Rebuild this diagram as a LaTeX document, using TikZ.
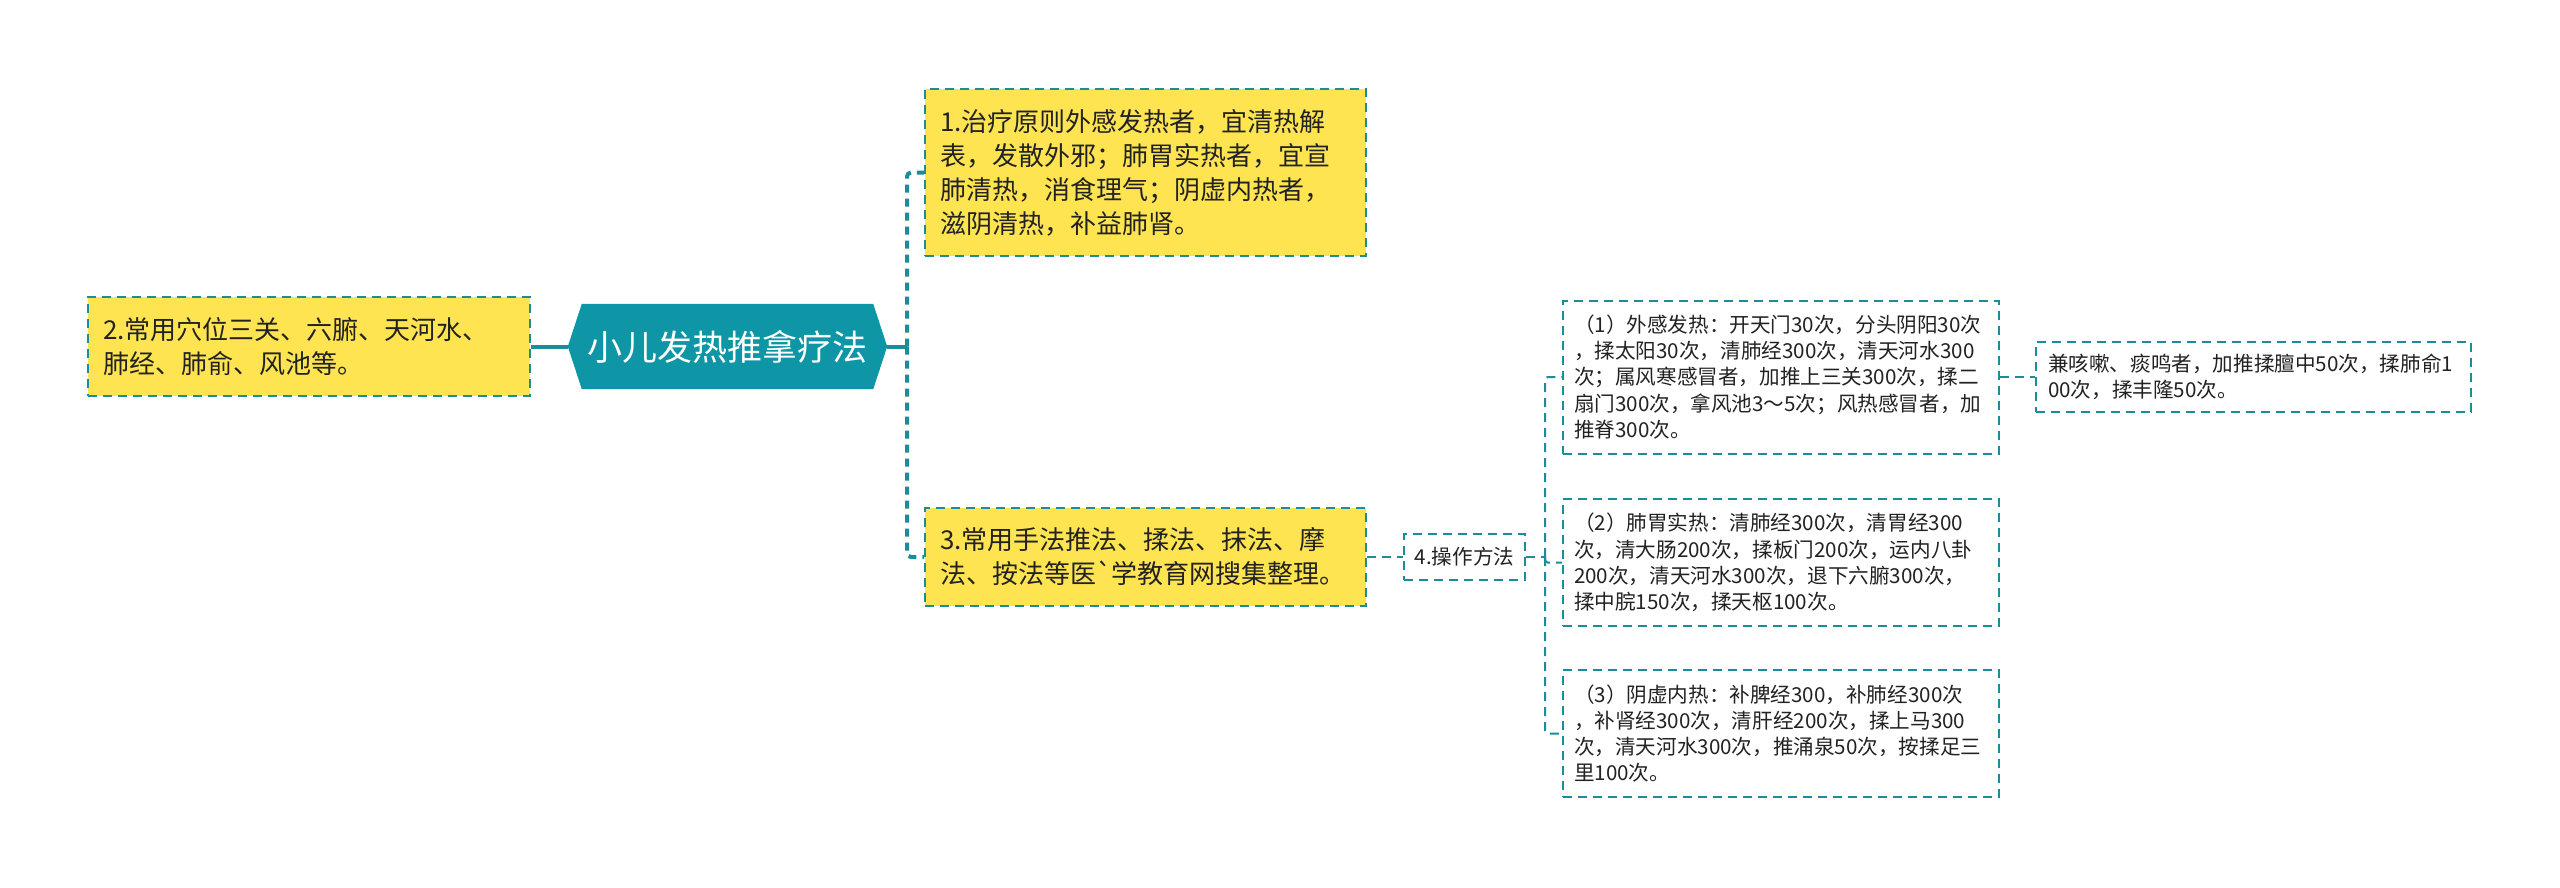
\documentclass[tikz,border=0pt]{standalone}
\usepackage{fontspec}
\setmainfont{Noto Sans CJK SC}
\newfontfamily\rawfont{Noto Sans CJK SC}[Ligatures=TeXOff]
\usetikzlibrary{backgrounds}
\definecolor{hexfill}{HTML}{0E96A6}
\definecolor{linec}{HTML}{1B8C99}
\definecolor{yel}{HTML}{FFE452}
\definecolor{txtc}{HTML}{222222}
\hyphenpenalty=10000
\exhyphenpenalty=10000
\begin{document}
\begin{tikzpicture}[x=1pt,y=-1pt,
  ybox/.style={draw=linec, fill=yel, line width=2pt, dash pattern=on 9pt off 6pt, align=left, inner xsep=15pt, inner ysep=0pt, font=\fontsize{26}{34}\selectfont, text=txtc},
  wbox/.style={draw=linec, fill=white, line width=2pt, dash pattern=on 9pt off 6pt, align=left, inner xsep=11pt, inner ysep=0pt, font=\fontsize{20.6}{26.3}\selectfont, text=txtc},
  mainline/.style={draw=linec, line width=4pt},
  maindash/.style={draw=linec, line width=4pt, dash pattern=on 8pt off 6pt, rounded corners=4pt},
  thindash/.style={draw=linec, line width=2pt, dash pattern=on 9pt off 6pt, rounded corners=3pt}]
\useasboundingbox (0,0) rectangle (2560,887);

% central hexagon
\node[minimum width=319pt, minimum height=85pt, inner sep=0pt, text=white, font=\fontsize{35}{40}\selectfont] (c) at (727.5,346.5) {小儿发热推拿疗法};
\begin{scope}[on background layer]
\fill[white] (0,0) rectangle (2560,887);
\fill[hexfill] (c.west) -- ([xshift=14pt]c.north west) -- ([xshift=-14pt]c.north east) -- (c.east) -- ([xshift=-14pt]c.south east) -- ([xshift=14pt]c.south west) -- cycle;
\end{scope}

% first-level nodes
\node[ybox, text width=412pt, minimum height=99pt] (n2) at (309,346.5) {2.常用穴位三关、六腑、天河水、\\肺经、肺俞、风池等。};
\node[ybox, text width=411pt, minimum height=167pt] (n1) at (1145.5,172.5) {1.治疗原则外感发热者，宜清热解\\表，发散外邪；肺胃实热者，宜宣\\肺清热，消食理气；阴虚内热者，\\滋阴清热，补益肺肾。};
\node[ybox, text width=411pt, minimum height=98pt] (n3) at (1145.5,557) {3.常用手法推法、揉法、抹法、摩\\法、按法等医{\rawfont`}学教育网搜集整理。};

% second level
\node[wbox, align=center, inner xsep=0pt, minimum width=121pt, minimum height=46pt] (n4) at (1464.5,557) {4.操作方法};
\node[wbox, text width=414pt, minimum height=153pt] (s1) at (1781,377) {（1）外感发热：开天门30次，分头阴阳30次\\，揉太阳30次，清肺经300次，清天河水300\\次；属风寒感冒者，加推上三关300次，揉二\\扇门300次，拿风池3～5次；风热感冒者，加\\推脊300次。};
\node[wbox, text width=414pt, minimum height=127pt] (s2) at (1781,562.5) {（2）肺胃实热：清肺经300次，清胃经300\\次，清大肠200次，揉板门200次，运内八卦\\200次，清天河水300次，退下六腑300次，\\揉中脘150次，揉天枢100次。};
\node[wbox, text width=414pt, minimum height=127pt] (s3) at (1781,733.5) {（3）阴虚内热：补脾经300，补肺经300次\\，补肾经300次，清肝经200次，揉上马300\\次，清天河水300次，推涌泉50次，按揉足三\\里100次。};
\node[wbox, inner xsep=12pt, text width=411pt, minimum height=70pt] (f) at (2253.5,377) {兼咳嗽、痰鸣者，加推揉膻中50次，揉肺俞1\\00次，揉丰隆50次。};

% connectors
\coordinate (j1) at (907,346.5);
\coordinate (j2) at (1545,557);
\draw[mainline] (c.west) -- (n2.east);
\draw[mainline] (c.east) -- (j1);
\draw[maindash] (j1) |- (n1.west);
\draw[maindash] (j1) |- (n3.west);
\draw[thindash] (n3.east) -- (n4.west);
\draw[thindash] (n4.east) -- (j2);
\draw[thindash] (j2) |- (s1.west);
\draw[thindash] (j2) |- (s2.west);
\draw[thindash] (j2) |- (s3.west);
\draw[thindash] (s1.east) -- (f.west);
\end{tikzpicture}
\end{document}
